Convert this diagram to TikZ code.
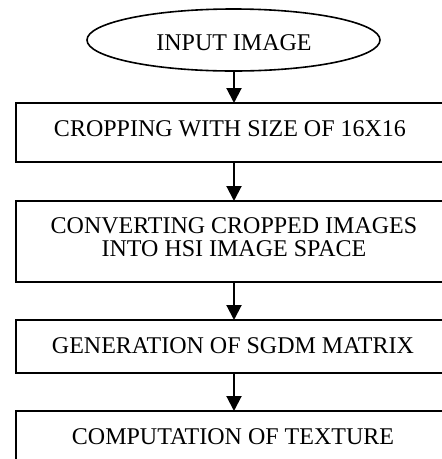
\documentclass[tikz,border=0pt]{standalone}
\usepackage{fontspec}
\setmainfont{Liberation Serif}
\usetikzlibrary{shapes.geometric,arrows.meta}
\begin{document}
\begin{tikzpicture}[x=1pt,y=-1pt,
  every node/.style={inner sep=0pt,outer sep=0pt},
  outline/.style={draw=black,line width=1.6pt},
  stepbox/.style={outline,rectangle,minimum width=434pt},
  caption/.style={anchor=base,font=\fontsize{24}{23}\selectfont},
  flow/.style={line width=2pt,-{Triangle[width=15pt,length=15pt]}}]
  \useasboundingbox (0,0) rectangle (442,459);
  \clip (0,0) rectangle (442,459);

  % start terminal
  \node[outline,ellipse,minimum width=293pt,minimum height=62pt] (in) at (233.5,40) {};
  \node[caption] (tin) at (234,50) {INPUT IMAGE};

  % process steps
  \node[stepbox,minimum height=59pt] (crop) at (233,132.5) {};
  \node[caption] (tcrop) at (230,136) {CROPPING WITH SIZE OF 16X16};

  \node[stepbox,minimum height=81pt] (hsi) at (233,241.5) {};
  \node[caption] (thsia) at (234,233) {CONVERTING CROPPED IMAGES};
  \node[caption] (thsib) at (234,256) {INTO HSI IMAGE SPACE};

  \node[stepbox,minimum height=53pt] (sgdm) at (233,346.5) {};
  \node[caption] (tsgdm) at (233,353) {GENERATION OF SGDM MATRIX};

  \node[stepbox,minimum height=60pt] (tex) at (233,441) {};
  \node[caption] (ttex) at (233,444) {COMPUTATION OF TEXTURE};

  % connectors
  \draw[flow] (in.south -| 234,0) -- (crop.north -| 234,0);
  \draw[flow] (crop.south -| 234,0) -- (hsi.north -| 234,0);
  \draw[flow] (hsi.south -| 234,0) -- (sgdm.north -| 234,0);
  \draw[flow] (sgdm.south -| 234,0) -- (tex.north -| 234,0);
\end{tikzpicture}
\end{document}
